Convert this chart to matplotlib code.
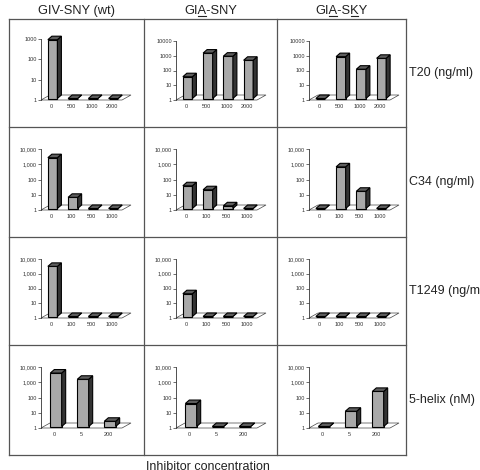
import matplotlib.pyplot as plt
from matplotlib.patches import Polygon
from matplotlib.transforms import Affine2D
from matplotlib.ticker import NullLocator, FixedLocator

plt.rcParams['font.family'] = ['Liberation Sans', 'DejaVu Sans']

# column / row headings
col_titles = ['GIV-SNY (wt)', 'GIA-SNY', 'GIA-SKY']
underlined = [[], [2], [2, 5]]          # character index of underlined letters
row_labels = ['T20 (ng/ml)', 'C34 (ng/ml)', 'T1249 (ng/ml)', '5-helix (nM)']
xlabel_text = 'Inhibitor concentration'

# concentrations on the x axis of each row
conc_t20 = ['0', '500', '1000', '2000']
conc_c34 = ['0', '100', '500', '1000']
conc_t1249 = ['0', '100', '500', '1000']
conc_helix = ['0', '5', '200']

# infectivity values (log scale, 1 = nothing)
t20_wt = [780, 1, 1, 1]
t20_sny = [30, 1200, 740, 390]
t20_sky = [1, 690, 97, 530]
c34_wt = [2150, 5.4, 1, 1]
c34_sny = [31, 17, 1.5, 1]
c34_sky = [1, 540, 13.5, 1]
t1249_wt = [2500, 1, 1, 1]
t1249_sny = [35, 1, 1, 1]
t1249_sky = [1, 1, 1, 1]
helix_wt = [3200, 1250, 2.2]
helix_sny = [32, 1, 1]
helix_sky = [1, 10, 200]

# y tick labels
yticks = [1, 10, 100, 1000, 10000]
ylabels_plain = ['1', '10', '100', '1000', '10000']
ylabels_comma = ['1', '10', '100', '1,000', '10,000']

rows = [
    (conc_t20, [t20_wt, t20_sny, t20_sky]),
    (conc_c34, [c34_wt, c34_sny, c34_sky]),
    (conc_t1249, [t1249_wt, t1249_sny, t1249_sky]),
    (conc_helix, [helix_wt, helix_sny, helix_sky]),
]

W, H = 481, 470
fig = plt.figure(figsize=(W / 100, H / 100), dpi=100)

# background axes in pixel units for the frame grid and headings
bg = fig.add_axes([0, 0, 1, 1])
bg.set_xlim(0, W)
bg.set_ylim(H, 0)
bg.axis('off')

col_edges = [9, 144, 277, 406]
row_edges = [19, 127, 237, 345, 455]
grid_kw = dict(color='#555555', lw=0.9)
for x in col_edges:
    bg.plot([x, x], [row_edges[0], row_edges[-1]], **grid_kw)
for y in row_edges:
    bg.plot([col_edges[0], col_edges[-1]], [y, y], **grid_kw)

renderer = fig.canvas.get_renderer()
title_kw = dict(fontsize=9.3, color='#222222', va='baseline', ha='left')
for j, title in enumerate(col_titles):
    cx = (col_edges[j] + col_edges[j + 1]) / 2
    t = bg.text(0, 14, title, **title_kw)
    tw = t.get_window_extent(renderer).width
    x0 = cx - tw / 2
    t.set_x(x0)
    for k in underlined[j]:
        a = bg.text(0, 14, title[:k], **title_kw)
        b = bg.text(0, 14, title[:k + 1], **title_kw)
        xa = a.get_window_extent(renderer).width if k > 0 else 0
        xb = b.get_window_extent(renderer).width
        a.remove()
        b.remove()
        bg.plot([x0 + xa + 0.5, x0 + xb - 0.5], [15.8, 15.8], color='#222222', lw=0.8)

for i, lab in enumerate(row_labels):
    cy = (row_edges[i] + row_edges[i + 1]) / 2
    bg.text(409, cy, lab, fontsize=9, color='#222222', va='center', ha='left')

bg.text(146, 461, xlabel_text, fontsize=9, color='#222222', va='top', ha='left')

FRONT = '#a9a9a9'
SIDE = '#333333'
TOP = '#5e5e5e'


def shifted(ax, pts, dx, dy):
    disp = ax.transData.transform(pts)
    disp[:, 0] += dx
    disp[:, 1] += dy
    return ax.transData.inverted().transform(disp)


for i, (cats, series) in enumerate(rows):
    for j, vals in enumerate(series):
        n = len(cats)
        left = col_edges[j] + 32
        width = 81
        ybot = row_edges[i + 1] - 27
        ytop = row_edges[i] + 22
        top_val = 1000 if (i == 0 and j == 0) else 10000
        if i == 0 and j == 0:
            ytop = row_edges[i] + 20
        ax = fig.add_axes([left / W, 1 - ybot / H, width / W, (ybot - ytop) / H])
        ax.set_yscale('log')
        ax.set_ylim(1, top_val)
        ax.set_xlim(-0.5, n - 0.5)
        ax.patch.set_visible(False)
        for s in ['top', 'right', 'bottom']:
            ax.spines[s].set_visible(False)
        ax.spines['left'].set_color('#333333')
        ax.spines['left'].set_linewidth(0.6)
        labs = ylabels_plain if i == 0 else ylabels_comma
        nt = 4 if top_val == 1000 else 5
        ax.yaxis.set_major_locator(FixedLocator(yticks[:nt]))
        ax.set_yticklabels(labs[:nt])
        ax.yaxis.set_minor_locator(NullLocator())
        ax.tick_params(axis='y', length=2, width=0.5, pad=1, labelsize=4,
                       colors='#333333')
        ax.set_xticks(range(n))
        ax.set_xticklabels(cats)
        ax.tick_params(axis='x', length=0, pad=3, labelsize=4, colors='#333333')

        # floor
        fx0, fx1 = -0.5, n - 0.5
        front = [[fx0, 1], [fx1, 1]]
        back = shifted(ax, front, 9, 5)
        floor = [front[0], front[1], back[1], back[0]]
        ax.add_patch(Polygon(floor, closed=True, facecolor='white', edgecolor='#444444',
                             lw=0.5, clip_on=False, zorder=1))

        # 3D bars
        w = 0.47 if n == 4 else 0.42
        fdx, fdy = 1.5, 1.5
        ddx, ddy = 4.0, 3.5
        bars = ax.bar(range(n), [v - 1 for v in vals], bottom=1, width=w,
                      color=FRONT, edgecolor='black', lw=0.8, zorder=3)
        for k, (rect, v) in enumerate(zip(bars, vals)):
            rect.set_transform(ax.transData + Affine2D().translate(fdx, fdy))
            rect.set_clip_on(False)
            xl, xr = k - w / 2, k + w / 2
            side_f = shifted(ax, [[xr, 1], [xr, v]], fdx, fdy)
            side_b = shifted(ax, [[xr, v], [xr, 1]], fdx + ddx, fdy + ddy)
            ax.add_patch(Polygon(list(side_f) + list(side_b), closed=True, facecolor=SIDE,
                                 edgecolor='black', lw=0.8, clip_on=False, zorder=3))
            top_f = shifted(ax, [[xl, v], [xr, v]], fdx, fdy)
            top_b = shifted(ax, [[xr, v], [xl, v]], fdx + ddx, fdy + ddy)
            ax.add_patch(Polygon(list(top_f) + list(top_b), closed=True, facecolor=TOP,
                                 edgecolor='black', lw=0.8, clip_on=False, zorder=3))

fig.savefig('out.png', dpi=100)
